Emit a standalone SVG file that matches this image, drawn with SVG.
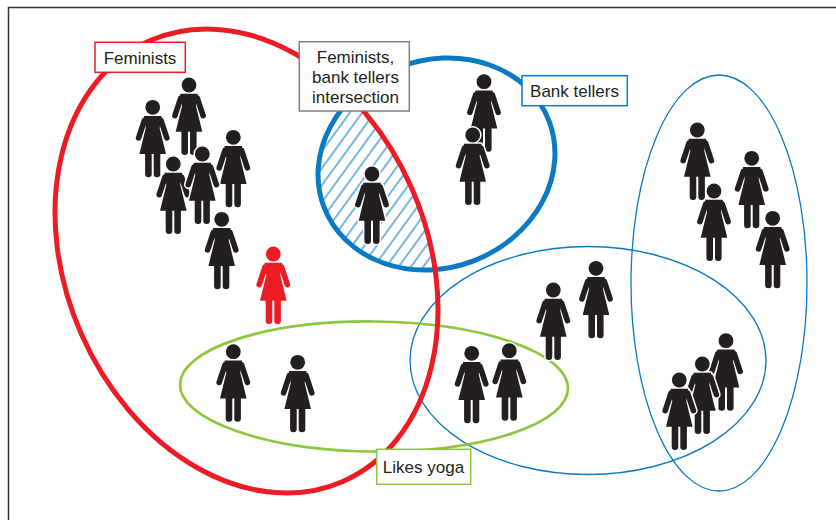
<svg xmlns="http://www.w3.org/2000/svg" width="836" height="520" viewBox="0 0 836 520">
<style>
.halo{fill:#fff;stroke:#fff;stroke-width:3;stroke-linejoin:round}
.p{fill:#231f20}
.r{fill:#ed1c24}
.lbl{font-family:"Liberation Sans",Arial,sans-serif;font-size:17px;fill:#231f20;text-anchor:middle}
.box{fill:#fff;stroke-width:1.5}
</style>
<defs>
<g id="f">
<circle cx="0" cy="0" r="7.4"/>
<path d="M-8.8,8.7 H8.8 L7,21 L13.3,46.7 H-13.3 L-7,21 Z"/>
<rect x="-2.8" y="0" width="5.6" height="24" rx="2.8" transform="translate(-7.4,10.5) rotate(18.4)"/>
<rect x="-2.8" y="0" width="5.6" height="24" rx="2.8" transform="translate(7.4,10.5) rotate(-18.4)"/>
<rect x="-7.6" y="44" width="6.6" height="26" rx="3.2"/>
<rect x="1" y="44" width="6.6" height="26" rx="3.2"/>
</g>
<pattern id="hatch" patternUnits="userSpaceOnUse" width="10" height="10" patternTransform="rotate(-33)">
<line x1="0" y1="5" x2="10" y2="5" stroke="#0a7ac4" stroke-width="1.1"/>
</pattern>
<clipPath id="clipRed">
<ellipse cx="246.5" cy="261" rx="180.6" ry="240.6" transform="rotate(-23.6 246.5 261)"/>
</clipPath>
</defs>
<rect width="836" height="520" fill="#fff"/>
<path d="M8.5,520 V7.5 H836" fill="none" stroke="#333" stroke-width="1.5"/>

<g id="sets">
<g id="intersection-hatch" clip-path="url(#clipRed)">
<ellipse cx="436.5" cy="164" rx="120.5" ry="103.7" transform="rotate(-21 436.5 164)" fill="url(#hatch)"/>
</g>
<ellipse id="set-bank-tellers" cx="436.5" cy="164" rx="120.5" ry="103.7" transform="rotate(-21 436.5 164)" fill="none" stroke="#0a7ac4" stroke-width="5"/>
<ellipse id="set-middle" cx="588" cy="360.5" rx="178" ry="114" fill="none" stroke="#0a7ac4" stroke-width="1.3"/>
<ellipse id="set-right" cx="719" cy="283" rx="88" ry="208" fill="none" stroke="#0a7ac4" stroke-width="1.3"/>
<ellipse id="set-likes-yoga" cx="374" cy="386.5" rx="194" ry="65" transform="rotate(0.6 374 386.5)" fill="none" stroke="#8dc63f" stroke-width="2.7"/>
<ellipse id="set-feminists" cx="246.5" cy="261" rx="180.6" ry="240.6" transform="rotate(-23.6 246.5 261)" fill="none" stroke="#ed1c24" stroke-width="5"/>
</g>

<g id="people">
<g id="p1" transform="translate(152.7,107.3)"><use href="#f" class="halo"/><use href="#f" class="p"/></g>
<g id="p2" transform="translate(189,85)"><use href="#f" class="halo"/><use href="#f" class="p"/></g>
<g id="p3" transform="translate(233.3,137.3)"><use href="#f" class="halo"/><use href="#f" class="p"/></g>
<g id="p4" transform="translate(173.3,164)"><use href="#f" class="halo"/><use href="#f" class="p"/></g>
<g id="p5" transform="translate(202.3,154)"><use href="#f" class="halo"/><use href="#f" class="p"/></g>
<g id="p6" transform="translate(221.7,219.3)"><use href="#f" class="halo"/><use href="#f" class="p"/></g>
<g id="p-red" transform="translate(273.3,254)"><use href="#f" class="halo"/><use href="#f" class="r"/></g>
<g id="p8" transform="translate(372,174)"><use href="#f" class="halo"/><use href="#f" class="p"/></g>
<g id="p9" transform="translate(484,81.7)"><use href="#f" class="halo"/><use href="#f" class="p"/></g>
<g id="p10" transform="translate(472.7,135)"><use href="#f" class="halo"/><use href="#f" class="p"/></g>
<g id="p11" transform="translate(697.3,130)"><use href="#f" class="halo"/><use href="#f" class="p"/></g>
<g id="p12" transform="translate(751.7,158.3)"><use href="#f" class="halo"/><use href="#f" class="p"/></g>
<g id="p13" transform="translate(714,191)"><use href="#f" class="halo"/><use href="#f" class="p"/></g>
<g id="p14" transform="translate(772.7,218.3)"><use href="#f" class="halo"/><use href="#f" class="p"/></g>
<g id="p15" transform="translate(726,340.7)"><use href="#f" class="halo"/><use href="#f" class="p"/></g>
<g id="p16" transform="translate(702.3,364)"><use href="#f" class="halo"/><use href="#f" class="p"/></g>
<g id="p17" transform="translate(679.3,380)"><use href="#f" class="halo"/><use href="#f" class="p"/></g>
<g id="p18" transform="translate(596,268.3)"><use href="#f" class="halo"/><use href="#f" class="p"/></g>
<g id="p19" transform="translate(553.3,290)"><use href="#f" class="halo"/><use href="#f" class="p"/></g>
<g id="p20" transform="translate(471.7,353.3)"><use href="#f" class="halo"/><use href="#f" class="p"/></g>
<g id="p21" transform="translate(509.3,350.7)"><use href="#f" class="halo"/><use href="#f" class="p"/></g>
<g id="p22" transform="translate(233.3,351.7)"><use href="#f" class="halo"/><use href="#f" class="p"/></g>
<g id="p23" transform="translate(297.7,362.3)"><use href="#f" class="halo"/><use href="#f" class="p"/></g>
</g>

<g id="label-feminists">
<rect class="box" x="95" y="42.3" width="90.3" height="30" stroke="#ed1c24"/>
<text class="lbl" x="140" y="64">Feminists</text>
</g>
<g id="label-intersection">
<rect class="box" x="299.3" y="41.7" width="110" height="69.3" stroke="#808080"/>
<text class="lbl" x="355.5" y="63.3">Feminists,</text>
<text class="lbl" x="355.5" y="83.3">bank tellers</text>
<text class="lbl" x="355.5" y="102.7">intersection</text>
</g>
<g id="label-bank-tellers">
<rect class="box" x="522" y="75.7" width="105.3" height="30" stroke="#0a7ac4"/>
<text class="lbl" x="574.5" y="97.3">Bank tellers</text>
</g>
<g id="label-likes-yoga">
<rect class="box" x="376.7" y="449.3" width="94" height="35" stroke="#8dc63f"/>
<text class="lbl" x="423.5" y="472.7">Likes yoga</text>
</g>
</svg>
